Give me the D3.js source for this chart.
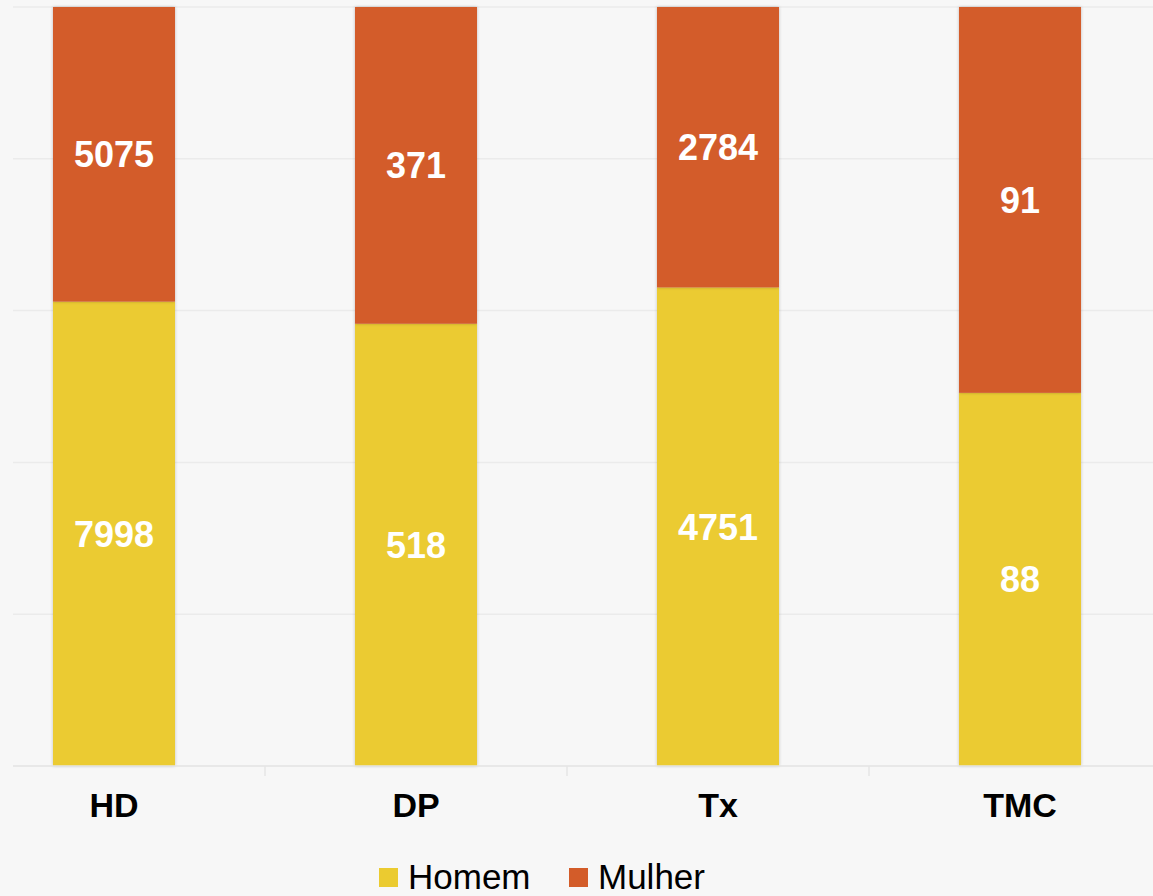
<!DOCTYPE html>
<html>
<head>
<meta charset="utf-8">
<script src="https://cdn.jsdelivr.net/npm/d3@7"></script>
<style>
  html, body { margin: 0; padding: 0; background: #f7f7f7; }
  svg { display: block; }
</style>
</head>
<body>
<div id="chart"></div>
<script>
// data
var categories = ["HD", "DP", "Tx", "TMC"];
var seriesNames = ["Homem", "Mulher"];
var homem = [7998, 518, 4751, 88];
var mulher = [5075, 371, 2784, 91];
var yTicks = [0, 0.2, 0.4, 0.6, 0.8, 1];

var colors = { Homem: "#ebcb30", Mulher: "#d35c29" };

var width = 1153, height = 896;
var plotTop = 7, plotBottom = 766;

var rows = categories.map(function(c, i){
    return { cat: c, Homem: homem[i], Mulher: mulher[i] };
});

var stack = d3.stack().keys(seriesNames).offset(d3.stackOffsetExpand);
var layers = stack(rows);

var x = d3.scaleBand()
    .domain(categories)
    .range([-37, 1171])
    .paddingInner(0.596)
    .paddingOuter(0.298);

var y = d3.scaleLinear().domain([0, 1]).range([plotBottom, plotTop]);

var svg = d3.select("#chart").append("svg")
    .attr("width", width)
    .attr("height", height);

var defs = svg.append("defs");
var f = defs.append("filter").attr("id", "shadow")
    .attr("x", "-10%").attr("y", "-5%").attr("width", "120%").attr("height", "110%");
f.append("feDropShadow").attr("dx", 0).attr("dy", 0).attr("stdDeviation", 1.5)
    .attr("flood-color", "#000").attr("flood-opacity", 0.25);

// gridlines
svg.append("g").selectAll("line")
    .data(yTicks)
    .enter().append("line")
    .attr("x1", 13).attr("x2", width)
    .attr("y1", function(d){ return y(d); })
    .attr("y2", function(d){ return y(d); })
    .attr("stroke", "#ebebeb")
    .attr("stroke-width", 1.5);

// bars
var g = svg.append("g");
layers.forEach(function(layer){
    g.selectAll(null)
        .data(layer)
        .enter().append("rect")
        .attr("x", function(d){ return x(d.data.cat); })
        .attr("width", x.bandwidth())
        .attr("y", function(d){ return y(d[1]); })
        .attr("height", function(d){ return y(d[0]) - y(d[1]); })
        .attr("fill", colors[layer.key])
        .attr("filter", "url(#shadow)");
});

// value labels
layers.forEach(function(layer){
    g.selectAll(null)
        .data(layer)
        .enter().append("text")
        .attr("x", function(d){ return x(d.data.cat) + x.bandwidth() / 2; })
        .attr("y", function(d){ return (y(d[0]) + y(d[1])) / 2; })
        .attr("dy", "0.36em")
        .attr("text-anchor", "middle")
        .attr("fill", "#fff")
        .style("font-family", "'Liberation Sans', Arial, sans-serif")
        .style("font-weight", "bold")
        .style("font-size", "36px")
        .text(function(d){ return d.data[layer.key]; });
});

// x axis baseline + ticks between categories
svg.append("line")
    .attr("x1", 13).attr("x2", width)
    .attr("y1", plotBottom).attr("y2", plotBottom)
    .attr("stroke", "#e6e6e6").attr("stroke-width", 1.5);

var step = x.step();
svg.append("g").selectAll("line")
    .data(categories.slice(1))
    .enter().append("line")
    .attr("x1", function(d){ return x(d) + x.bandwidth() / 2 - step / 2; })
    .attr("x2", function(d){ return x(d) + x.bandwidth() / 2 - step / 2; })
    .attr("y1", plotBottom).attr("y2", plotBottom + 10)
    .attr("stroke", "#e6e6e6").attr("stroke-width", 1.5);

svg.append("g").selectAll("text")
    .data(categories)
    .enter().append("text")
    .attr("x", function(d){ return x(d) + x.bandwidth() / 2; })
    .attr("y", 817)
    .attr("text-anchor", "middle")
    .attr("fill", "#000")
    .style("font-family", "'Liberation Sans', Arial, sans-serif")
    .style("font-weight", "bold")
    .style("font-size", "34px")
    .text(function(d){ return d; });

// legend
var legendX = [379, 569];
var legend = svg.append("g").selectAll("g")
    .data(seriesNames)
    .enter().append("g")
    .attr("transform", function(d, i){ return "translate(" + legendX[i] + ",0)"; });
legend.append("rect")
    .attr("x", 0).attr("y", 868)
    .attr("width", 19).attr("height", 19)
    .attr("fill", function(d){ return colors[d]; });
legend.append("text")
    .attr("x", 29).attr("y", 889)
    .attr("fill", "#000")
    .style("font-family", "'Liberation Sans', Arial, sans-serif")
    .style("font-size", "35px")
    .text(function(d){ return d; });
</script>
</body>
</html>
